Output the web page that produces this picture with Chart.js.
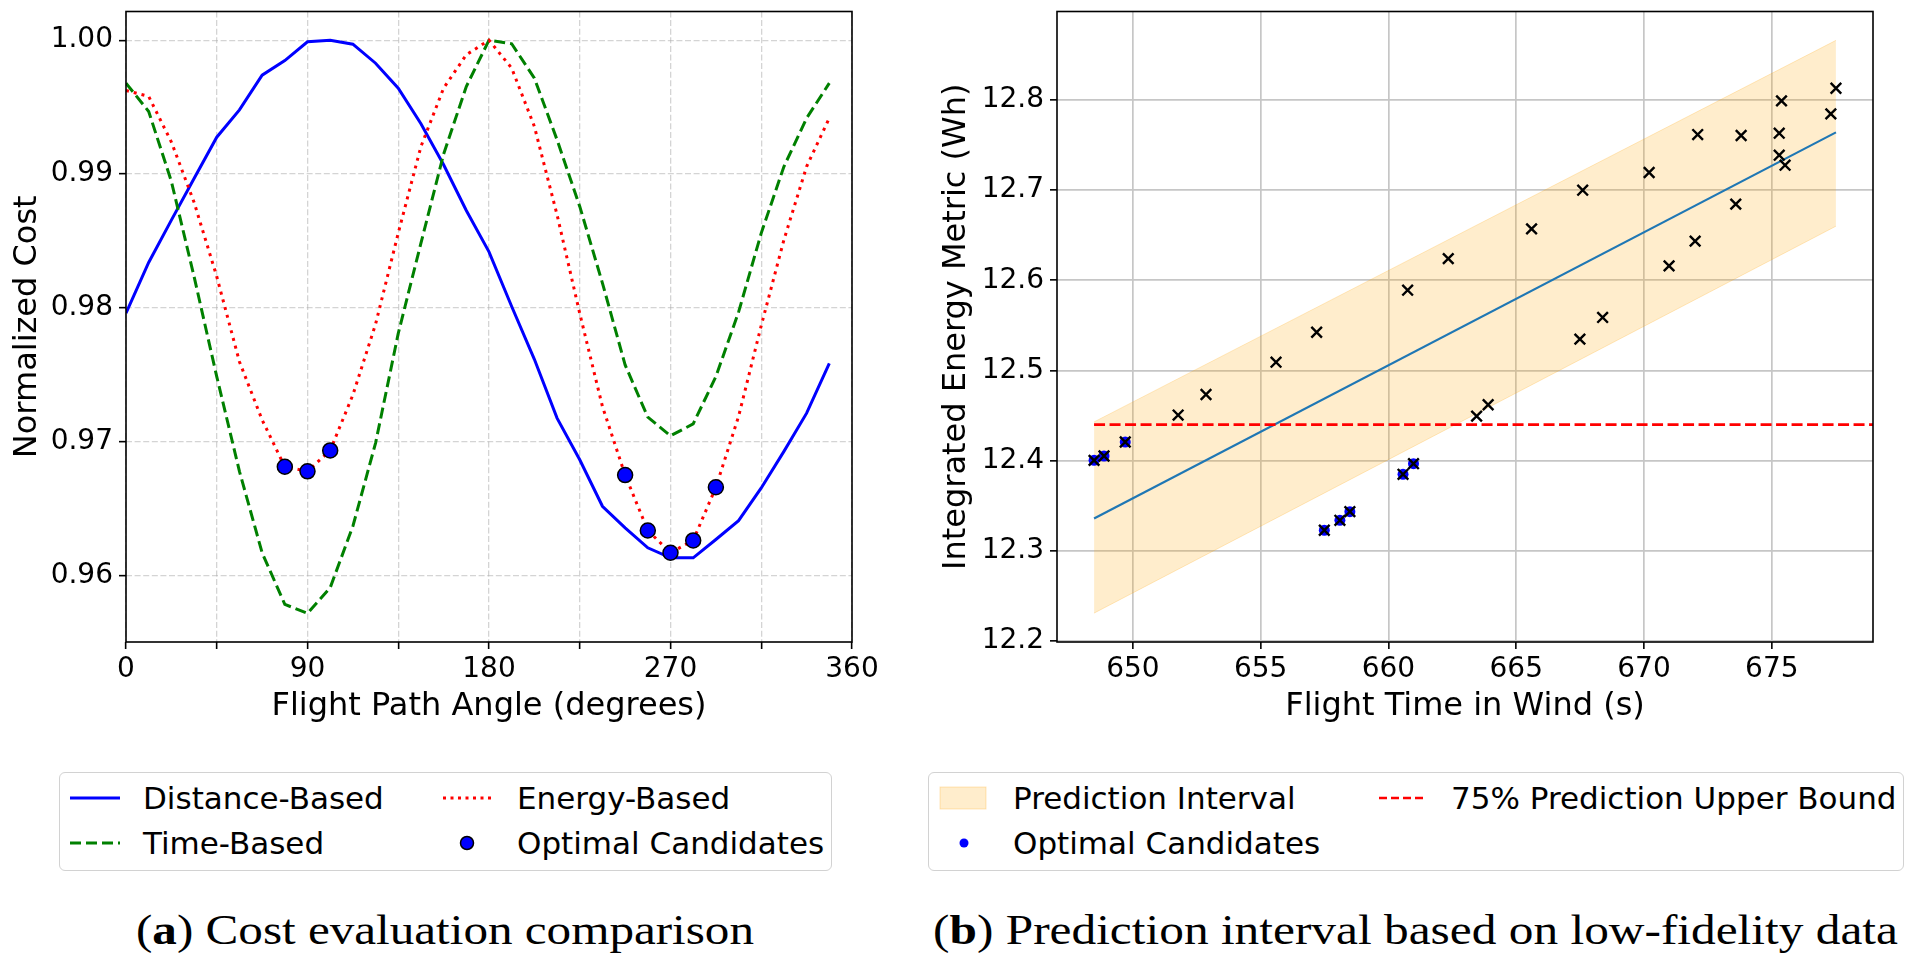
<!DOCTYPE html>
<html>
<head>
<meta charset="utf-8">
<title>Cost evaluation and prediction interval</title>
<script src="https://cdn.jsdelivr.net/npm/chart.js@4.4.1/dist/chart.umd.min.js"></script>
<style>
  html, body { margin: 0; padding: 0; background: #fff; }
  body { width: 1916px; height: 969px; position: relative; overflow: hidden; font-family: "DejaVu Sans", sans-serif; color: #000; }
  canvas { position: absolute; top: 0; }
  #costChart { left: 0; }
  #fitChart { left: 930px; }
  .legend { position: absolute; top: 772px; height: 99px; border: 1.5px solid #d2d2d2; border-radius: 6px; box-sizing: border-box; background: #fff; }
  .legend svg { position: absolute; left: 0; top: 0; overflow: visible; }
  .legend .txt { position: absolute; font-size: 31px; line-height: 31px; height: 31px; white-space: nowrap; transform: translateY(-50%); }
  .caption { position: absolute; top: 905px; font-family: "Liberation Serif", serif; font-size: 43px; line-height: 50px; white-space: nowrap; transform-origin: 0 0; }
</style>
</head>
<body>
<canvas id="costChart" width="900" height="745"></canvas>
<canvas id="fitChart" width="986" height="745"></canvas>

<div class="legend" style="left:59px; width:773px;">
  <svg width="773" height="99">
    <line x1="10" y1="25" x2="60" y2="25" stroke="#0000ff" stroke-width="3"/>
    <line x1="383" y1="25" x2="431" y2="25" stroke="#ff0000" stroke-width="3" stroke-dasharray="3 4.5"/>
    <line x1="10" y1="70" x2="60" y2="70" stroke="#008000" stroke-width="3" stroke-dasharray="11 5"/>
    <circle cx="407" cy="70" r="6.5" fill="#0000ff" stroke="#000" stroke-width="1.5"/>
  </svg>
  <div class="txt" style="left:83px; top:25px;">Distance-Based</div>
  <div class="txt" style="left:457px; top:25px;">Energy-Based</div>
  <div class="txt" style="left:83px; top:70px;">Time-Based</div>
  <div class="txt" style="left:457px; top:70px;">Optimal Candidates</div>
</div>

<div class="legend" style="left:928px; width:976px;">
  <svg width="976" height="99">
    <rect x="11" y="14" width="46" height="22" fill="#ffedcc" stroke="rgba(255,165,0,0.25)" stroke-width="1"/>
    <line x1="450" y1="25" x2="497" y2="25" stroke="#ff0000" stroke-width="2.6" stroke-dasharray="8 4"/>
    <circle cx="35" cy="70" r="4.5" fill="#0000ff"/>
  </svg>
  <div class="txt" style="left:84px; top:25px;">Prediction Interval</div>
  <div class="txt" style="left:522px; top:25px;">75% Prediction Upper Bound</div>
  <div class="txt" style="left:84px; top:70px;">Optimal Candidates</div>
</div>

<div class="caption" data-center="445" data-width="618">(<b>a</b>) Cost evaluation comparison</div>
<div class="caption" data-center="1415" data-width="965">(<b>b</b>) Prediction interval based on low-fidelity data</div>

<script>
// ---- (a) cost evaluation, flight path angle sweep ----
const angleDeg = [0, 11.25, 22.5, 33.75, 45, 56.25, 67.5, 78.75, 90, 101.25, 112.5, 123.75,
  135, 146.25, 157.5, 168.75, 180, 191.25, 202.5, 213.75, 225, 236.25, 247.5, 258.75,
  270, 281.25, 292.5, 303.75, 315, 326.25, 337.5, 348.75];

const distanceCost = [0.97963, 0.98341, 0.98657, 0.98968, 0.99276, 0.99480, 0.99739, 0.99848,
  0.99988, 1.00000, 0.99970, 0.99828, 0.99642, 0.99376, 0.99070, 0.98729,
  0.98420, 0.98012, 0.97618, 0.97179, 0.96868, 0.96521, 0.96360, 0.96211,
  0.96136, 0.96136, 0.96273, 0.96414, 0.96658, 0.96931, 0.97216, 0.97588];

const timeCost = [0.99679, 0.99468, 0.98946, 0.98236, 0.97489, 0.96782, 0.96174, 0.95789,
  0.95722, 0.95913, 0.96372, 0.96993, 0.97811, 0.98485, 0.99150, 0.99654,
  1.00000, 0.99973, 0.99716, 0.99256, 0.98759, 0.98187, 0.97576, 0.97186,
  0.97047, 0.97136, 0.97489, 0.97970, 0.98560, 0.99057, 0.99418, 0.99679];

const energyCost = [0.99624, 0.99580, 0.99240, 0.98790, 0.98236, 0.97600, 0.97166, 0.96816,
  0.96782, 0.96938, 0.97352, 0.97880, 0.98560, 0.99206, 0.99642, 0.99891,
  1.00000, 0.99791, 0.99356, 0.98697, 0.97960, 0.97266, 0.96754, 0.96340,
  0.96174, 0.96266, 0.96663, 0.97191, 0.97870, 0.98510, 0.99057, 0.99418];

const candidateAngle = [78.75, 90, 101.25, 247.5, 258.75, 270, 281.25, 292.5];
const candidateCost = [0.96816, 0.96782, 0.96938, 0.96754, 0.96340, 0.96174, 0.96266, 0.96663];

// ---- (b) low-fidelity runs: flight time vs energy ----
const flightTime = [648.48, 648.87, 649.70, 651.77, 652.86, 655.60, 657.19, 657.49,
  658.10, 658.49, 660.57, 660.75, 660.98, 662.34, 663.45, 663.90,
  665.60, 667.49, 667.60, 668.38, 670.20, 670.98, 672.00, 672.10,
  673.59, 673.80, 675.29, 675.29, 675.38, 675.52, 677.31, 677.51];
const energyMetric = [12.4004, 12.4052, 12.4207, 12.4506, 12.4734, 12.5092, 12.5424, 12.3229,
  12.3339, 12.3435, 12.3849, 12.5890, 12.3967, 12.6240, 12.4494, 12.4620,
  12.6570, 12.5348, 12.6999, 12.5588, 12.7195, 12.6160, 12.6434, 12.7616,
  12.6844, 12.7605, 12.7631, 12.7387, 12.7989, 12.7276, 12.7845, 12.8129];

const candTime = [648.48, 648.87, 649.70, 657.49, 658.10, 658.49, 660.57, 660.98];
const candEnergy = [12.4004, 12.4052, 12.4207, 12.3229, 12.3339, 12.3435, 12.3849, 12.3967];

const bandTime = [648.48, 677.51];
const bandLower = [12.231, 12.660];
const bandUpper = [12.443, 12.866];
const fitEnergy = [12.336, 12.764];

const boundTime = [648.48, 678.96];
const upperBound = [12.44, 12.44];

const toXY = (xs, ys) => xs.map((x, i) => ({ x, y: ys[i] }));

Chart.defaults.font.family = '"DejaVu Sans", sans-serif';
Chart.defaults.color = '#000';
Chart.defaults.animation = false;

const framePlugin = {
  id: 'frame',
  afterDraw(chart) {
    const { ctx, chartArea: a } = chart;
    ctx.save();
    ctx.strokeStyle = '#000';
    ctx.lineWidth = 1.6;
    ctx.strokeRect(a.left, a.top, a.right - a.left, a.bottom - a.top);
    ctx.restore();
  }
};

const tickFont = { size: 28 };
const titleFont = { size: 32 };

function fixX(h) {
  return s => { s.height = h; s.paddingLeft = 0; s.paddingRight = 0; };
}
function fixY(w) {
  return s => { s.width = w; s.paddingTop = 0; s.paddingBottom = 0; };
}

new Chart(document.getElementById('costChart'), {
  type: 'line',
  data: {
    datasets: [
      {
        label: 'Optimal Candidates',
        type: 'scatter',
        data: toXY(candidateAngle, candidateCost),
        pointRadius: 7.5,
        pointBackgroundColor: '#0000ff',
        pointBorderColor: '#000',
        pointBorderWidth: 1.5,
        showLine: false,
        order: 0
      },
      {
        label: 'Distance-Based',
        data: toXY(angleDeg, distanceCost),
        borderColor: '#0000ff',
        borderWidth: 3,
        pointRadius: 0,
        order: 3
      },
      {
        label: 'Time-Based',
        data: toXY(angleDeg, timeCost),
        borderColor: '#008000',
        borderWidth: 3,
        borderDash: [11, 5],
        pointRadius: 0,
        order: 2
      },
      {
        label: 'Energy-Based',
        data: toXY(angleDeg, energyCost),
        borderColor: '#ff0000',
        borderWidth: 3,
        borderDash: [3, 5],
        pointRadius: 0,
        order: 1
      }
    ]
  },
  options: {
    responsive: false,
    layout: { padding: { left: 0, top: 11.5, right: 48, bottom: 19 } },
    plugins: { legend: { display: false }, tooltip: { enabled: false } },
    scales: {
      x: {
        type: 'linear',
        min: 0,
        max: 360,
        afterFit: fixX(84),
        ticks: {
          stepSize: 45,
          autoSkip: false,
          maxRotation: 0,
          padding: 4,
          font: tickFont,
          callback: v => (v % 90 === 0 ? String(v) : '')
        },
        grid: { color: 'rgba(176,176,176,0.55)', lineWidth: 1.3, tickColor: '#000', tickWidth: 1.6, tickLength: 7 },
        border: { display: false, dash: [6, 2.6] },
        title: { display: true, text: 'Flight Path Angle (degrees)', font: titleFont, padding: { top: 0, bottom: 0 } }
      },
      y: {
        min: 0.95508,
        max: 1.00214,
        afterFit: fixY(126),
        ticks: {
          stepSize: 0.01,
          includeBounds: false,
          padding: 6,
          font: tickFont,
          callback: v => v.toFixed(2)
        },
        grid: { color: 'rgba(176,176,176,0.55)', lineWidth: 1.3, tickColor: '#000', tickWidth: 1.6, tickLength: 7 },
        border: { display: false, dash: [6, 2.6] },
        title: { display: true, text: 'Normalized Cost', font: titleFont, padding: { top: 8, bottom: 0 } }
      }
    }
  },
  plugins: [framePlugin]
});

new Chart(document.getElementById('fitChart'), {
  type: 'scatter',
  data: {
    datasets: [
      {
        label: 'Runs',
        data: toXY(flightTime, energyMetric),
        pointStyle: 'crossRot',
        pointRadius: 7.5,
        pointBorderColor: '#000',
        pointBorderWidth: 2.4,
        order: 0
      },
      {
        label: 'Optimal Candidates',
        data: toXY(candTime, candEnergy),
        pointRadius: 5.5,
        pointBackgroundColor: '#0000ff',
        pointBorderColor: '#0000ff',
        pointBorderWidth: 0,
        order: 1
      },
      {
        label: '75% Prediction Upper Bound',
        type: 'line',
        data: toXY(boundTime, upperBound),
        borderColor: '#ff0000',
        borderWidth: 2.6,
        borderDash: [11, 4.5],
        pointRadius: 0,
        order: 2
      },
      {
        label: 'Fit',
        type: 'line',
        data: toXY(bandTime, fitEnergy),
        borderColor: '#1f77b4',
        borderWidth: 2.2,
        pointRadius: 0,
        order: 3
      },
      {
        label: 'Lower',
        type: 'line',
        data: toXY(bandTime, bandLower),
        borderColor: 'rgba(255,165,0,0.22)',
        borderWidth: 1,
        pointRadius: 0,
        fill: false,
        order: 5
      },
      {
        label: 'Prediction Interval',
        type: 'line',
        data: toXY(bandTime, bandUpper),
        borderColor: 'rgba(255,165,0,0.22)',
        backgroundColor: 'rgba(255,165,0,0.2)',
        borderWidth: 1,
        pointRadius: 0,
        fill: '-1',
        order: 4
      }
    ]
  },
  options: {
    responsive: false,
    layout: { padding: { left: 0, top: 11.5, right: 43, bottom: 19 } },
    plugins: { legend: { display: false }, tooltip: { enabled: false } },
    scales: {
      x: {
        type: 'linear',
        min: 647.03,
        max: 678.96,
        afterFit: fixX(84),
        ticks: {
          stepSize: 5,
          includeBounds: false,
          autoSkip: false,
          maxRotation: 0,
          padding: 4,
          font: tickFont,
          callback: v => String(v)
        },
        grid: { color: '#c6c6c6', lineWidth: 1.7, tickColor: '#000', tickWidth: 1.6, tickLength: 7 },
        border: { display: false },
        title: { display: true, text: 'Flight Time in Wind (s)', font: titleFont, padding: { top: 0, bottom: 0 } }
      },
      y: {
        min: 12.199,
        max: 12.898,
        afterFit: fixY(127),
        ticks: {
          stepSize: 0.1,
          includeBounds: false,
          padding: 6,
          font: tickFont,
          callback: v => v.toFixed(1)
        },
        grid: { color: '#c6c6c6', lineWidth: 1.7, tickColor: '#000', tickWidth: 1.6, tickLength: 7 },
        border: { display: false },
        title: { display: true, text: 'Integrated Energy Metric (Wh)', font: titleFont, padding: { top: 7, bottom: 0 } }
      }
    }
  },
  plugins: [framePlugin]
});

// stretch the serif captions to the reference widths
document.querySelectorAll('.caption').forEach(el => {
  const target = +el.dataset.width;
  const w = el.getBoundingClientRect().width;
  el.style.left = (+el.dataset.center - target / 2) + 'px';
  el.style.transform = `scaleX(${target / w})`;
});
</script>
</body>
</html>
